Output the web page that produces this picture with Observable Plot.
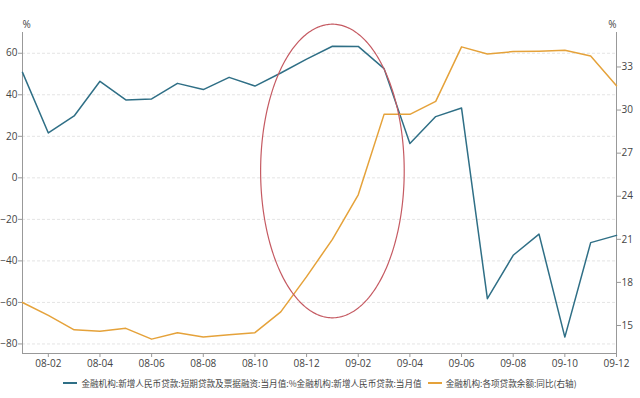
<!DOCTYPE html>
<html>
<head>
<meta charset="utf-8">
<script src="https://cdn.jsdelivr.net/npm/d3@7"></script>
<script src="https://cdn.jsdelivr.net/npm/@observablehq/plot@0.6"></script>
<style>
  html, body { margin: 0; padding: 0; background: #fff; }
  #chart { width: 640px; }
  .legend { display: flex; justify-content: center; align-items: center; height: 22px;
    font-family: "Noto Sans CJK SC", sans-serif; font-size: 8.6px; color: #444; }
  .item { display: flex; align-items: center; margin: 0 3px; }
  .swatch { width: 14px; height: 2px; margin-right: 4px; }
</style>
</head>
<body>
<div id="chart"></div>
<script>
const months = ["08-01","08-02","08-03","08-04","08-05","08-06","08-07","08-08","08-09","08-10","08-11","08-12",
                "09-01","09-02","09-03","09-04","09-05","09-06","09-07","09-08","09-09","09-10","09-11","09-12"];
// 短期贷款及票据融资 / 新增人民币贷款 (%), left axis
const shortLoanShare = [50.8, 21.6, 29.8, 46.5, 37.5, 38.0, 45.5, 42.5, 48.4, 44.2, 50.5, 57.2,
                        63.4, 63.3, 52.6, 16.5, 29.5, 33.6, -58.2, -37.3, -27.1, -76.7, -31.2, -27.7];
// 各项贷款余额 同比 (%), right axis
const loanGrowth = [16.6, 15.7, 14.7, 14.6, 14.8, 14.05, 14.5, 14.2, 14.35, 14.5, 15.95, 18.4,
                    21.0, 24.1, 29.7, 29.7, 30.6, 34.4, 33.9, 34.07, 34.1, 34.16, 33.77, 31.7];
const leftTicks = [-80, -60, -40, -20, 0, 20, 40, 60];
const rightTicks = [15, 18, 21, 24, 27, 30, 33];
const xTickIdx = [1, 3, 5, 7, 9, 11, 13, 15, 17, 19, 21, 23];
const seriesNames = ["金融机构:新增人民币贷款:短期贷款及票据融资:当月值:%金融机构:新增人民币贷款:当月值",
                     "金融机构:各项贷款余额:同比(右轴)"];
const colors = ["#2f6f86", "#e5a23a"];
// highlight ellipse annotation in data units: center month index, left-axis value, radii
const ellipse = {cx: 12, cy: 3.3, rx: 2.78, ry: 70.7};

const leftDomain = [-84.6, 70];
const rightDomain = [13.05, 35.4];
const toLeft = r => leftDomain[0] + (r - rightDomain[0]) / (rightDomain[1] - rightDomain[0]) * (leftDomain[1] - leftDomain[0]);
const toRight = l => rightDomain[0] + (l - leftDomain[0]) / (leftDomain[1] - leftDomain[0]) * (rightDomain[1] - rightDomain[0]);

const rows = months.map((m, i) => ({i, m, share: shortLoanShare[i], growth: toLeft(loanGrowth[i])}));
const ell = d3.range(0, 2 * Math.PI + 0.02, 0.02).map(t => ({
  x: ellipse.cx + ellipse.rx * Math.cos(t), y: ellipse.cy + ellipse.ry * Math.sin(t)}));

const plot = Plot.plot({
  width: 640, height: 372,
  marginLeft: 22, marginRight: 24, marginTop: 32, marginBottom: 19,
  style: {fontFamily: "'Open Sans', sans-serif", fontSize: "10px", color: "#444", background: "#fff"},
  x: {domain: [0, 23]},
  y: {domain: leftDomain},
  marks: [
    Plot.ruleY(leftTicks, {stroke: "#e4e4e4", strokeDasharray: "3,2"}),
    Plot.ruleX([0], {stroke: "#999"}),
    Plot.ruleX([23], {stroke: "#999"}),
    Plot.ruleY([leftDomain[0]], {stroke: "#999"}),
    Plot.axisY(leftTicks, {anchor: "left", tickSize: 4, tickPadding: 1, label: null, stroke: "#999"}),
    Plot.axisY(rightTicks.map(toLeft), {anchor: "right", tickSize: 4, tickPadding: 1, label: null, stroke: "#999",
      tickFormat: v => Math.round(toRight(v))}),
    Plot.axisX(xTickIdx, {anchor: "bottom", tickSize: 4, tickPadding: 2, label: null, stroke: "#999",
      tickFormat: i => months[i]}),
    Plot.text(["%"], {frameAnchor: "top-left", dy: -12, fill: "#444"}),
    Plot.text(["%"], {frameAnchor: "top-right", dy: -12, fill: "#444"}),
    Plot.line(rows, {x: "i", y: "share", stroke: colors[0], strokeWidth: 1.5}),
    Plot.line(rows, {x: "i", y: "growth", stroke: colors[1], strokeWidth: 1.5}),
    Plot.line(ell, {x: "x", y: "y", stroke: "#c55a62", strokeWidth: 1.2, curve: "linear"})
  ]
});
document.getElementById("chart").appendChild(plot);

const legend = document.createElement("div");
legend.className = "legend";
seriesNames.forEach((name, k) => {
  const it = document.createElement("div");
  it.className = "item";
  it.innerHTML = `<span class="swatch" style="background:${colors[k]}"></span><span>${name}</span>`;
  legend.appendChild(it);
});
document.getElementById("chart").appendChild(legend);
</script>
</body>
</html>
